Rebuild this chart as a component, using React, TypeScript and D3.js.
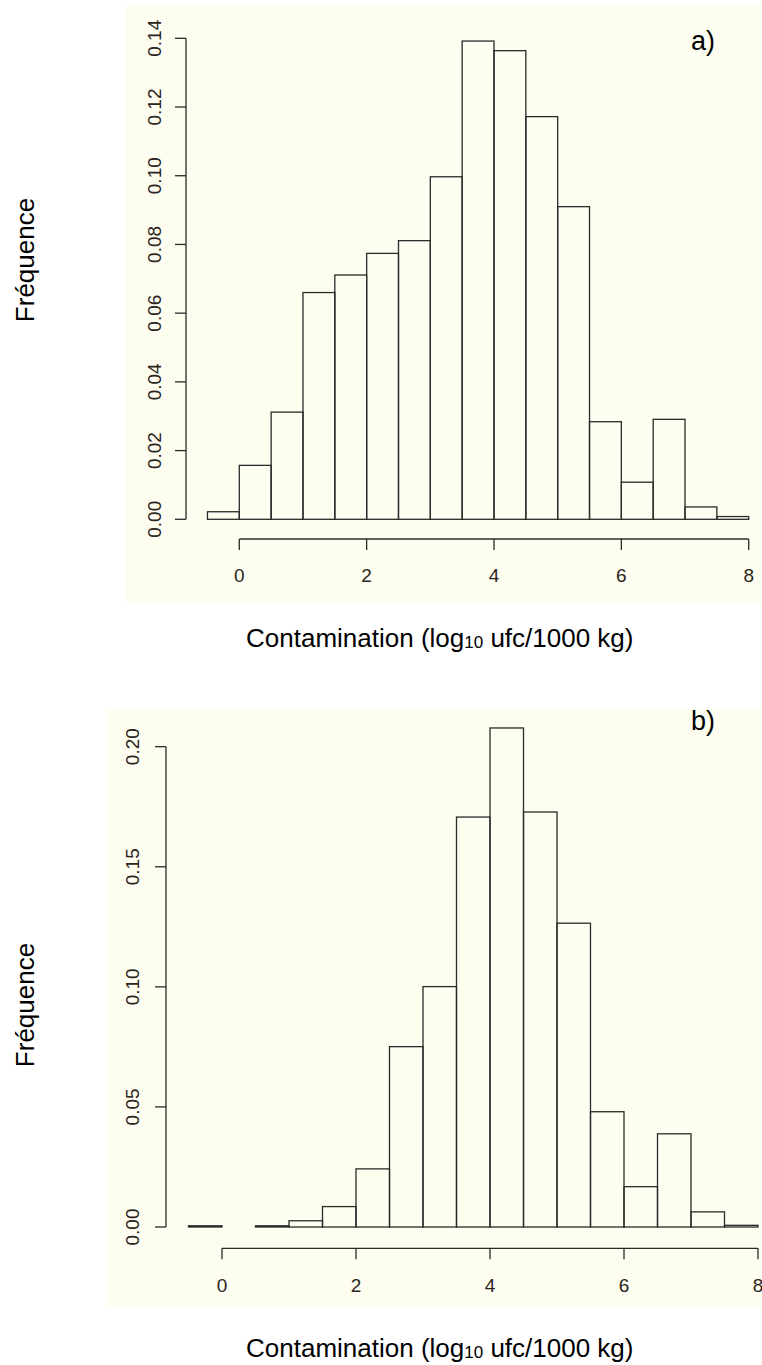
import { useEffect, useRef } from "react";
import * as d3 from "d3";

// histogram bins (left edge of each 0.5-wide class)
const binStarts = [-0.5, 0, 0.5, 1, 1.5, 2, 2.5, 3, 3.5, 4, 4.5, 5, 5.5, 6, 6.5, 7, 7.5];
const binWidth = 0.5;

// a) frequencies
const freqA = [
  0.0022, 0.0157, 0.0312, 0.066, 0.0711, 0.0774, 0.0811, 0.0997, 0.1392,
  0.1364, 0.1172, 0.091, 0.0284, 0.0108, 0.0291, 0.0036, 0.0008,
];

// b) frequencies
const freqB = [
  0.0005, 0, 0.0005, 0.0026, 0.0085, 0.0242, 0.0751, 0.1001, 0.1707, 0.2078,
  0.1728, 0.1265, 0.048, 0.0168, 0.0388, 0.0063, 0.0007,
];

const xTicks = [0, 2, 4, 6, 8];
const yTicksA = [0, 0.02, 0.04, 0.06, 0.08, 0.1, 0.12, 0.14];
const yTicksB = [0, 0.05, 0.1, 0.15, 0.2];

const xLabel = "Contamination (log";
const xLabelSub = "10";
const xLabelEnd = " ufc/1000 kg)";
const yLabel = "Fréquence";

function App() {
  const ref = useRef(null);

  useEffect(() => {
    const width = 762;
    const height = 1365;
    const font = "'Liberation Sans', Arial, sans-serif";

    d3.select(ref.current).selectAll("*").remove();

    const svg = d3
      .select(ref.current)
      .append("svg")
      .attr("width", width)
      .attr("height", height)
      .style("position", "absolute")
      .style("left", 0)
      .style("top", 0)
      .style("background", "white");

    const panels = [
      {
        data: freqA,
        yTicks: yTicksA,
        yFmt: d3.format(".2f"),
        tag: "a)",
        tagX: 691,
        tagY: 50,
        bg: { x: 126, y: 5, w: 636, h: 598 },
        xRange: [239.3, 748.7],
        yDomain: [0, 0.14],
        yRange: [519.3, 38.3],
        xAxisY: 539,
        yAxisX: 186,
        yTickLabelX: 160.5,
        xTickLabelY: 581.7,
        xLabelY: 647,
        yLabelCenter: 260,
      },
      {
        data: freqB,
        yTicks: yTicksB,
        yFmt: d3.format(".2f"),
        tag: "b)",
        tagX: 691,
        tagY: 730,
        bg: { x: 107, y: 709, w: 655, h: 598 },
        xRange: [222, 758],
        yDomain: [0, 0.2],
        yRange: [1227, 746.7],
        xAxisY: 1248.3,
        yAxisX: 166,
        yTickLabelX: 139,
        xTickLabelY: 1291.7,
        xLabelY: 1357,
        yLabelCenter: 1005,
      },
    ];

    panels.forEach((p) => {
      const g = svg.append("g");

      // cream plotting region
      g.append("rect")
        .attr("x", p.bg.x)
        .attr("y", p.bg.y)
        .attr("width", p.bg.w)
        .attr("height", p.bg.h)
        .attr("fill", "#fefef0");

      const x = d3.scaleLinear().domain([0, 8]).range(p.xRange);
      const y = d3.scaleLinear().domain(p.yDomain).range(p.yRange);

      // bars
      g.selectAll("rect.bar")
        .data(binStarts.map((b, i) => ({ b, v: p.data[i] })))
        .enter()
        .append("rect")
        .attr("class", "bar")
        .attr("x", (d) => x(d.b))
        .attr("y", (d) => y(d.v))
        .attr("width", (d) => x(d.b + binWidth) - x(d.b))
        .attr("height", (d) => y(0) - y(d.v))
        .attr("fill", "none")
        .attr("stroke", "#2a2a2a")
        .attr("stroke-width", 1.3);

      // x axis (R style: line spans first..last tick)
      g.append("line")
        .attr("x1", x(xTicks[0]))
        .attr("x2", x(xTicks[xTicks.length - 1]))
        .attr("y1", p.xAxisY)
        .attr("y2", p.xAxisY)
        .attr("stroke", "#2a2a2a")
        .attr("stroke-width", 1.3);
      g.selectAll("line.xt")
        .data(xTicks)
        .enter()
        .append("line")
        .attr("x1", (d) => x(d))
        .attr("x2", (d) => x(d))
        .attr("y1", p.xAxisY)
        .attr("y2", p.xAxisY + 11)
        .attr("stroke", "#2a2a2a")
        .attr("stroke-width", 1.3);
      g.selectAll("text.xt")
        .data(xTicks)
        .enter()
        .append("text")
        .attr("x", (d) => x(d))
        .attr("y", p.xTickLabelY)
        .attr("text-anchor", "middle")
        .attr("font-family", font)
        .attr("font-size", 19)
        .attr("fill", "#2b2420")
        .text((d) => d);

      // y axis
      const yt = p.yTicks;
      g.append("line")
        .attr("x1", p.yAxisX)
        .attr("x2", p.yAxisX)
        .attr("y1", y(yt[0]))
        .attr("y2", y(yt[yt.length - 1]))
        .attr("stroke", "#2a2a2a")
        .attr("stroke-width", 1.3);
      g.selectAll("line.yt")
        .data(yt)
        .enter()
        .append("line")
        .attr("x1", p.yAxisX - 11)
        .attr("x2", p.yAxisX)
        .attr("y1", (d) => y(d))
        .attr("y2", (d) => y(d))
        .attr("stroke", "#2a2a2a")
        .attr("stroke-width", 1.3);
      g.selectAll("text.yt")
        .data(yt)
        .enter()
        .append("text")
        .attr(
          "transform",
          (d) => `translate(${p.yTickLabelX}, ${y(d)}) rotate(-90)`
        )
        .attr("text-anchor", "middle")
        .attr("font-family", font)
        .attr("font-size", 19)
        .attr("fill", "#2b2420")
        .text((d) => p.yFmt(d));

      // x label with subscript
      const xl = g
        .append("text")
        .attr("x", 246)
        .attr("y", p.xLabelY)
        .attr("font-family", font)
        .attr("font-size", 26)
        .attr("fill", "#000");
      xl.append("tspan").text(xLabel);
      xl.append("tspan").attr("font-size", 17).attr("dy", 1).text(xLabelSub);
      xl.append("tspan").attr("dy", -1).text(xLabelEnd);

      // y label
      g.append("text")
        .attr("transform", `translate(33.5, ${p.yLabelCenter}) rotate(-90)`)
        .attr("text-anchor", "middle")
        .attr("font-family", font)
        .attr("font-size", 26)
        .attr("fill", "#000")
        .text(yLabel);

      // panel tag
      g.append("text")
        .attr("x", p.tagX)
        .attr("y", p.tagY)
        .attr("font-family", font)
        .attr("font-size", 27)
        .attr("fill", "#000")
        .text(p.tag);
    });
  }, []);

  return <div ref={ref}></div>;
}

export default App;
